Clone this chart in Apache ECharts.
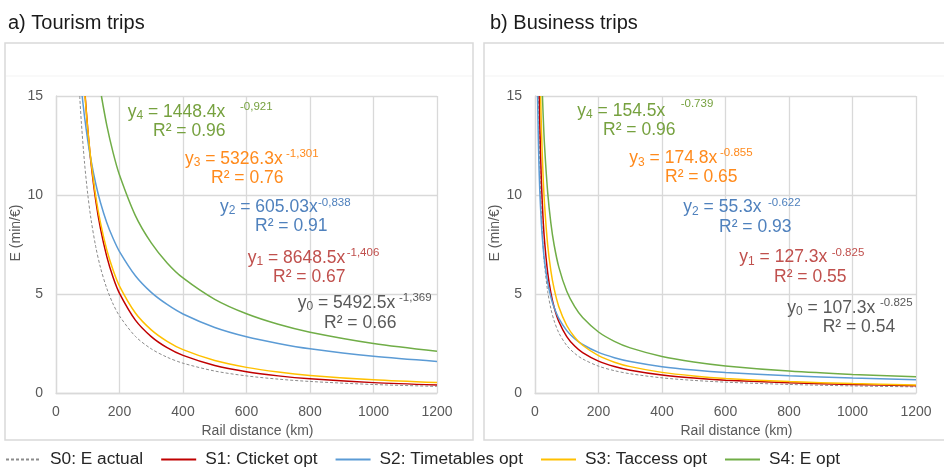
<!DOCTYPE html>
<html>
<head>
<meta charset="utf-8">
<title>Rail distance elasticity</title>
<script src="https://cdn.jsdelivr.net/npm/echarts@6/dist/echarts.min.js"></script>
<style>
  html, body { margin: 0; padding: 0; background: #ffffff; }
  #chart { width: 944px; height: 472px; }
</style>
</head>
<body>
<div id="chart"></div>
<script>
// Series names (shared legend for both panels)
const seriesNames = ['S0: E actual', 'S1: Cticket opt', 'S2: Timetables opt', 'S3: Taccess opt', 'S4: E opt'];

// Axis ticks
const xTicks = [0, 200, 400, 600, 800, 1000, 1200];
const yTicks = [0, 5, 10, 15];

// a) Tourism trips — rail distance (km) and E (min/€) per scenario
const tourS0Km = [74.6, 80, 90, 100, 110, 125, 140, 160, 180, 200, 250, 300, 350, 400, 500, 600, 700, 800, 1000, 1200];
const tourS0E  = [15.0, 13.63, 11.60, 10.04, 8.81, 7.40, 6.34, 5.28, 4.49, 3.89, 2.86, 2.23, 1.807, 1.505, 1.109, 0.864, 0.700, 0.583, 0.429, 0.334];
const tourS1Km = [91.9, 100, 110, 125, 140, 160, 180, 200, 250, 300, 350, 400, 500, 600, 700, 800, 1000, 1200];
const tourS1E  = [15.0, 13.33, 11.66, 9.74, 8.31, 6.89, 5.83, 5.03, 3.68, 2.85, 2.29, 1.90, 1.39, 1.074, 0.865, 0.717, 0.524, 0.405];
const tourS2Km = [82.4, 90, 100, 110, 125, 140, 160, 180, 200, 250, 300, 350, 400, 500, 600, 700, 800, 1000, 1200];
const tourS2E  = [15.0, 13.94, 12.76, 11.78, 10.58, 9.62, 8.60, 7.80, 7.14, 5.92, 5.08, 4.47, 3.99, 3.31, 2.84, 2.50, 2.23, 1.85, 1.59];
const tourS3Km = [91.3, 100, 110, 125, 140, 160, 180, 200, 250, 300, 350, 400, 500, 600, 700, 800, 1000, 1200];
const tourS3E  = [15.0, 13.32, 11.76, 9.96, 8.60, 7.22, 6.20, 5.40, 4.04, 3.19, 2.61, 2.19, 1.641, 1.294, 1.059, 0.890, 0.666, 0.525];
const tourS4Km = [143, 160, 180, 200, 250, 300, 350, 400, 500, 600, 700, 800, 1000, 1200];
const tourS4E  = [15.0, 13.52, 12.13, 11.01, 8.96, 7.58, 6.57, 5.81, 4.73, 4.00, 3.47, 3.07, 2.50, 2.11];

// b) Business trips
const busS0Km = [10.9, 13.4, 15, 20, 25, 30, 40, 50, 60, 75, 100, 125, 150, 200, 250, 300, 400, 500, 600, 800, 1000, 1200];
const busS0E  = [15.0, 12.64, 11.49, 9.06, 7.54, 6.48, 5.12, 4.26, 3.66, 3.04, 2.40, 2.00, 1.72, 1.356, 1.128, 0.970, 0.765, 0.636, 0.548, 0.432, 0.359, 0.309];
const busS1Km = [13.4, 15, 20, 25, 30, 40, 50, 60, 75, 100, 125, 150, 200, 250, 300, 400, 500, 600, 800, 1000, 1200];
const busS1E  = [15.0, 13.63, 10.75, 8.94, 7.69, 6.07, 5.05, 4.34, 3.61, 2.85, 2.37, 2.04, 1.609, 1.338, 1.151, 0.908, 0.755, 0.650, 0.513, 0.426, 0.367];
const busS2Km = [8.14, 10, 12, 15, 20, 25, 30, 40, 50, 60, 75, 100, 125, 150, 200, 250, 300, 400, 500, 600, 800, 1000, 1200];
const busS2E  = [15.0, 13.20, 11.79, 10.26, 8.58, 7.47, 6.67, 5.57, 4.85, 4.33, 3.77, 3.15, 2.74, 2.45, 2.049, 1.783, 1.592, 1.331, 1.159, 1.034, 0.865, 0.753, 0.672];
const busS3Km = [17.7, 20, 25, 30, 40, 50, 60, 75, 100, 125, 150, 200, 250, 300, 400, 500, 600, 800, 1000, 1200];
const busS3E  = [15.0, 13.50, 11.15, 9.54, 7.46, 6.17, 5.28, 4.36, 3.41, 2.82, 2.41, 1.885, 1.557, 1.332, 1.042, 0.861, 0.737, 0.576, 0.476, 0.407];
const busS4Km = [23.5, 25, 30, 40, 50, 60, 75, 100, 125, 150, 200, 250, 300, 400, 500, 600, 800, 1000, 1200];
const busS4E  = [15.0, 14.32, 12.51, 10.12, 8.58, 7.50, 6.36, 5.14, 4.36, 3.81, 3.08, 2.61, 2.28, 1.845, 1.565, 1.367, 1.106, 0.937, 0.819];

// Fitted power-law equations shown on each panel
const tourEq = [
  { sub: '0', coef: '5492.5x', exp: '-1,369', r2: '0.66' },
  { sub: '1', coef: '8648.5x', exp: '-1,406', r2: '0.67' },
  { sub: '2', coef: '605.03x', exp: '-0,838', r2: '0.91' },
  { sub: '3', coef: '5326.3x', exp: '-1,301', r2: '0.76' },
  { sub: '4', coef: '1448.4x', exp: '-0,921', r2: '0.96' }
];
const busEq = [
  { sub: '0', coef: '107.3x', exp: '-0.825', r2: '0.54' },
  { sub: '1', coef: '127.3x', exp: '-0.825', r2: '0.55' },
  { sub: '2', coef: '55.3x',  exp: '-0.622', r2: '0.93' },
  { sub: '3', coef: '174.8x', exp: '-0.855', r2: '0.65' },
  { sub: '4', coef: '154.5x', exp: '-0.739', r2: '0.96' }
];

const FONT = '"Liberation Sans", Arial, sans-serif';
const lineColors = ['#8c8c8c', '#c00000', '#5b9bd5', '#ffc000', '#70ad47'];
const textColors = ['#595959', '#c0504d', '#4f81bd', '#ff8a1c', '#76a13f'];

function zip(xs, ys) { return xs.map((x, i) => [x, ys[i]]); }

const tourData = [zip(tourS0Km, tourS0E), zip(tourS1Km, tourS1E), zip(tourS2Km, tourS2E), zip(tourS3Km, tourS3E), zip(tourS4Km, tourS4E)];
const busData  = [zip(busS0Km, busS0E), zip(busS1Km, busS1E), zip(busS2Km, busS2E), zip(busS3Km, busS3E), zip(busS4Km, busS4E)];

function makeSeries(dataSets, axisIndex) {
  return dataSets.map((d, i) => ({
    name: seriesNames[i],
    type: 'line',
    xAxisIndex: axisIndex,
    yAxisIndex: axisIndex,
    data: d,
    smooth: 0.3,
    symbol: 'none',
    clip: true,
    z: 3 + i,
    lineStyle: i === 0
      ? { color: lineColors[0], width: 1, type: [3, 2] }
      : { color: lineColors[i], width: 1.5 },
    itemStyle: { color: lineColors[i] },
    emphasis: { disabled: true }
  }));
}

function makeX(gridIndex) {
  return {
    type: 'value', gridIndex, min: xTicks[0], max: xTicks[xTicks.length - 1], interval: xTicks[1] - xTicks[0],
    name: 'Rail distance (km)', nameLocation: 'middle', nameGap: 29,
    nameTextStyle: { fontFamily: FONT, fontSize: 14, color: '#595959', padding: [0, 0, 0, 22] },
    axisLine: { show: true, lineStyle: { color: '#d9d9d9', width: 1.3 } },
    axisTick: { show: false },
    axisLabel: { fontFamily: FONT, fontSize: 14, color: '#595959', margin: 12, formatter: v => String(v) },
    splitLine: { show: true, lineStyle: { color: '#d9d9d9', width: 1.3 } }
  };
}
function makeY(gridIndex) {
  return {
    type: 'value', gridIndex, min: yTicks[0], max: yTicks[yTicks.length - 1], interval: yTicks[1] - yTicks[0],
    name: 'E (min/€)', nameLocation: 'middle', nameGap: 31,
    nameTextStyle: { fontFamily: FONT, fontSize: 14, color: '#595959', padding: [0, 0, 0, 23] },
    axisLine: { show: true, lineStyle: { color: '#d9d9d9', width: 1.3 } },
    axisTick: { show: false },
    axisLabel: { fontFamily: FONT, fontSize: 14, color: '#595959', margin: 13 },
    splitLine: { show: true, lineStyle: { color: '#d9d9d9', width: 1.3 } }
  };
}

// Label anchor positions (px) for each equation block: [eqX, eqY, supX, supY, r2X, r2Y]
const tourLabelPos = [
  [297.7, 302.7, 399, 298, 324, 322.7],
  [247.7, 258, 346.7, 253, 273, 276.7],
  [220, 206.7, 318, 203, 255, 226],
  [185, 159, 286, 154, 211, 177.7],
  [127.7, 111.7, 240, 107, 153, 131]
];
const busLabelPos = [
  [787.3, 307.7, 880, 303, 822.7, 326.7],
  [739.3, 257.3, 831.7, 253, 774, 277.3],
  [683.3, 207.3, 768, 202.7, 719, 226.7],
  [629.3, 158.3, 720, 153, 665, 177],
  [577.3, 110.7, 680.7, 104, 603, 130]
];

function eqGraphics(eqs, pos) {
  const out = [];
  eqs.forEach((e, i) => {
    const p = pos[i];
    const c = textColors[i];
    out.push({
      type: 'text', x: p[0], y: p[1], z: 20,
      style: {
        text: '{b|y}{s|' + e.sub + '}{b| = ' + e.coef + '}',
        fill: c, verticalAlign: 'middle', align: 'left',
        rich: {
          b: { fontFamily: FONT, fontSize: 17.5, lineHeight: 20, fill: c },
          s: { fontFamily: FONT, fontSize: 12, lineHeight: 17, verticalAlign: 'bottom', fill: c }
        }
      }
    });
    out.push({
      type: 'text', x: p[2], y: p[3], z: 20,
      style: { text: e.exp, fill: c, font: '11.5px ' + FONT, verticalAlign: 'middle', align: 'left' }
    });
    out.push({
      type: 'text', x: p[4], y: p[5], z: 20,
      style: { text: 'R² = ' + e.r2, fill: c, font: '17.5px ' + FONT, verticalAlign: 'middle', align: 'left' }
    });
  });
  return out;
}

const frameGraphics = [
  { type: 'rect', z: 0, shape: { x: 5, y: 43, width: 468, height: 397 }, style: { fill: '#ffffff', stroke: '#d9d9d9', lineWidth: 1.5 } },
  { type: 'rect', z: 0, shape: { x: 484, y: 43, width: 470, height: 397 }, style: { fill: '#ffffff', stroke: '#d9d9d9', lineWidth: 1.5 } },
  { type: 'line', z: 1, shape: { x1: 6, y1: 76, x2: 472, y2: 76 }, style: { stroke: '#f3f3f3', lineWidth: 1 } },
  { type: 'line', z: 1, shape: { x1: 485, y1: 76, x2: 944, y2: 76 }, style: { stroke: '#f3f3f3', lineWidth: 1 } },
  { type: 'text', x: 8, y: 23, z: 20, style: { text: 'a) Tourism trips', font: '20px ' + FONT, fill: '#1a1a1a', verticalAlign: 'middle' } },
  { type: 'text', x: 490, y: 23, z: 20, style: { text: 'b) Business trips', font: '20px ' + FONT, fill: '#1a1a1a', verticalAlign: 'middle' } }
];

const chart = echarts.init(document.getElementById('chart'), null, { renderer: 'canvas' });
chart.setOption({
  animation: false,
  backgroundColor: '#ffffff',
  textStyle: { fontFamily: FONT },
  grid: [
    { left: 56, top: 96, width: 381, height: 297 },
    { left: 535, top: 96, width: 381, height: 297 }
  ],
  xAxis: [makeX(0), makeX(1)],
  yAxis: [makeY(0), makeY(1)],
  legend: {
    data: seriesNames,
    left: 5, top: 451,
    itemWidth: 35, itemHeight: 10, itemGap: 17,
    padding: 0,
    selectedMode: false,
    itemStyle: { opacity: 0 },
    textStyle: { fontFamily: FONT, fontSize: 17.3, color: '#262626', padding: [0, 0, 0, 4] }
  },
  graphic: frameGraphics.concat(eqGraphics(tourEq, tourLabelPos), eqGraphics(busEq, busLabelPos)),
  series: makeSeries(tourData, 0).concat(makeSeries(busData, 1))
});
</script>
</body>
</html>
